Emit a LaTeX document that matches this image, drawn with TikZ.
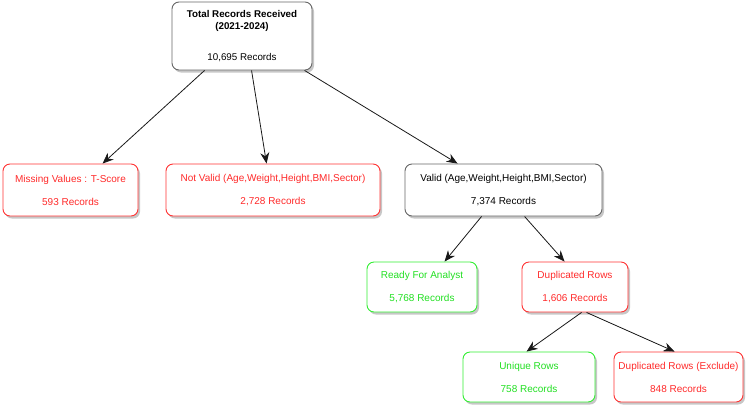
\documentclass[tikz,border=0pt]{standalone}
\usepackage{fontspec}
\setmainfont{Liberation Sans}
\usetikzlibrary{calc,shadows,arrows.meta}

\definecolor{boxgray}{HTML}{666666}
\definecolor{boxred}{HTML}{FF3333}
\definecolor{txtred}{HTML}{FF2A2A}
\definecolor{boxgreen}{HTML}{33EE33}
\definecolor{txtgreen}{HTML}{22E022}

\tikzset{
  card/.style={rectangle, rounded corners=7pt, line width=0.9pt, fill=white,
    align=center, inner sep=0pt,
    drop shadow={shadow xshift=2pt, shadow yshift=-2.5pt, fill=black, opacity=0.22},
    font=\fontsize{10}{23}\selectfont},
  plaincard/.style={card, draw=boxgray, text=black},
  redcard/.style={card, draw=boxred, text=txtred},
  greencard/.style={card, draw=boxgreen, text=txtgreen},
  flow/.style={draw=black!90, line width=0.8pt, -{Stealth[length=11pt,width=9pt]}}
}

\begin{document}
\begin{tikzpicture}[x=1pt, y=-1pt]
  \useasboundingbox (0,0) rectangle (750,408);

  % root
  \node[plaincard, minimum width=140pt, minimum height=68pt,
        font=\fontsize{9.8}{12}\selectfont] (root) at (242,36)
        {\textbf{Total Records Received}\\\textbf{(2021-2024)}\\[19pt]10,695 Records};

  % first level
  \node[redcard, minimum width=135pt, minimum height=52pt] (missing) at (70.5,190)
        {Missing Values : T-Score\\593 Records};
  \node[redcard, minimum width=214pt, minimum height=52pt] (notvalid) at (273,190)
        {Not Valid (Age,Weight,Height,BMI,Sector)\\2,728 Records};
  \node[plaincard, minimum width=197pt, minimum height=52pt] (valid) at (503.5,190)
        {Valid (Age,Weight,Height,BMI,Sector)\\7,374 Records};

  % second level
  \node[greencard, minimum width=110pt, minimum height=50pt] (ready) at (422,287)
        {Ready For Analyst\\5,768 Records};
  \node[redcard, minimum width=106pt, minimum height=50pt] (dup) at (575,287)
        {Duplicated Rows\\1,606 Records};

  % third level
  \node[greencard, minimum width=132pt, minimum height=50pt] (unique) at (529,377)
        {Unique Rows\\758 Records};
  \node[redcard, minimum width=129pt, minimum height=50pt] (exclude) at (678.5,377)
        {Duplicated Rows (Exclude)\\848 Records};

  % connectors
  \draw[flow] ($(root.south west)+(33,0)$) -- ($(missing.north west)+(100,0)$);
  \draw[flow] ($(root.south west)+(80,0)$) -- ($(notvalid.north west)+(101,0)$);
  \draw[flow] ($(root.south west)+(133,0)$) -- ($(valid.north west)+(53,0)$);

  \draw[flow] ($(valid.south west)+(77,0)$) -- ($(ready.north west)+(78,0)$);
  \draw[flow] ($(valid.south west)+(120,0)$) -- ($(dup.north west)+(43,0)$);

  \draw[flow] ($(dup.south west)+(60,0)$) -- ($(unique.north west)+(64,0)$);
  \draw[flow] ($(dup.south west)+(65,0)$) -- ($(exclude.north west)+(61,0)$);
\end{tikzpicture}
\end{document}
